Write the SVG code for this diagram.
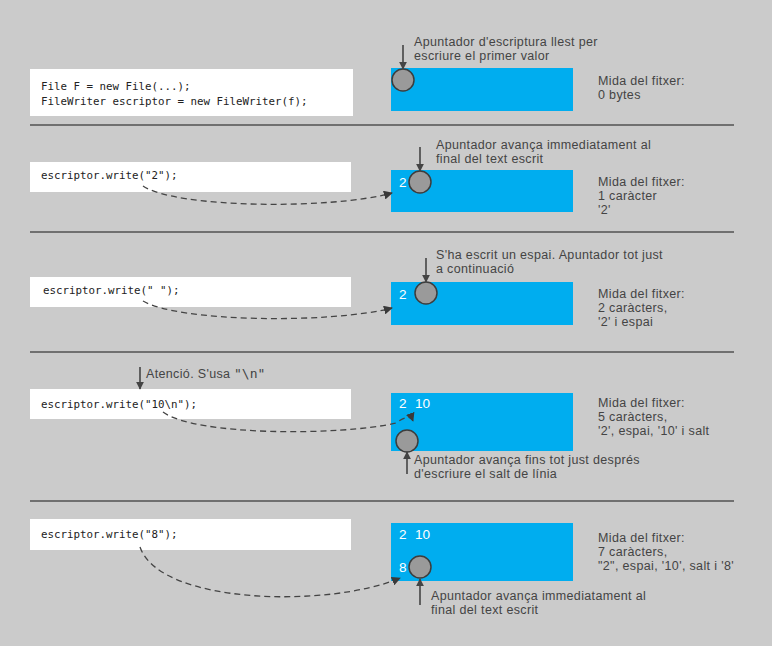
<svg xmlns="http://www.w3.org/2000/svg" width="772" height="646" viewBox="0 0 772 646">
<defs>
<style>
.bg{fill:#cbcbcb}
.code{fill:#ffffff}
.ct{font-family:"DejaVu Sans Mono","Liberation Mono",monospace;font-size:10.8px;fill:#222}
.lbl{font-family:"Liberation Sans",Arial,sans-serif;font-size:12.5px;letter-spacing:0.35px;fill:#444}
.wt{font-family:"Liberation Sans",Arial,sans-serif;font-size:13.6px;fill:#ffffff}
.mono{font-family:"DejaVu Sans Mono","Liberation Mono",monospace;font-size:13px;letter-spacing:0;fill:#444}
.file{fill:#00adef}
.ptr{fill:#9a9a9a;stroke:#3d3d3d;stroke-width:1.5}
.div{stroke:#707070;stroke-width:2}
.arr{stroke:#444;stroke-width:1.6;fill:none}
.dash{stroke:#444;stroke-width:1.3;fill:none;stroke-dasharray:6,4}
</style>
<marker id="ah" viewBox="0 0 10 10" refX="9" refY="5" markerWidth="8" markerHeight="8" markerUnits="userSpaceOnUse" orient="auto">
<path d="M0,0 L10,5 L0,10 Z" fill="#444"/>
</marker>
<marker id="ah2" viewBox="0 0 10 10" refX="9" refY="5" markerWidth="9" markerHeight="9" markerUnits="userSpaceOnUse" orient="auto">
<path d="M0,0 L10,5 L0,10 Z" fill="#3a3a3a"/>
</marker>
</defs>
<rect class="bg" x="0" y="0" width="772" height="646"/>

<g id="dividers">
<line class="div" x1="30" y1="125" x2="734" y2="125"/>
<line class="div" x1="30" y1="232" x2="734" y2="232"/>
<line class="div" x1="30" y1="352" x2="734" y2="352"/>
<line class="div" x1="30" y1="501" x2="734" y2="501"/>
</g>

<g id="code1">
<rect class="code" x="30" y="69" width="323" height="47"/>
<text class="ct" x="41" y="90">File F = new File(...);<tspan x="41" dy="15">FileWriter escriptor = new FileWriter(f);</tspan></text>
</g>
<g id="code2">
<rect class="code" x="30" y="162" width="321" height="30"/>
<text class="ct" x="41" y="179">escriptor.write("2");</text>
</g>
<g id="code3">
<rect class="code" x="30" y="277" width="321" height="30"/>
<text class="ct" x="43" y="294">escriptor.write(" ");</text>
</g>
<g id="code4">
<rect class="code" x="30" y="389" width="321" height="30"/>
<text class="ct" x="41" y="408">escriptor.write("10\n");</text>
</g>
<g id="code5">
<rect class="code" x="30" y="519" width="321" height="31"/>
<text class="ct" x="41" y="538">escriptor.write("8");</text>
</g>

<g id="file1">
<rect class="file" x="391" y="68" width="182" height="43"/>
<circle class="ptr" cx="403" cy="80" r="11"/>
<text class="lbl" x="414" y="46">Apuntador d'escriptura llest per<tspan x="414" dy="14">escriure el primer valor</tspan></text>
<text class="lbl" x="598" y="85">Mida del fitxer:<tspan x="598" dy="14">0 bytes</tspan></text>
</g>
<g id="file2">
<rect class="file" x="391" y="170" width="182" height="42"/>
<text class="wt" x="399" y="187">2</text>
<circle class="ptr" cx="420" cy="182" r="11"/>
<text class="lbl" x="436" y="149">Apuntador avança immediatament al<tspan x="436" dy="14">final del text escrit</tspan></text>
<text class="lbl" x="598" y="186">Mida del fitxer:<tspan x="598" dy="14">1 caràcter</tspan><tspan x="598" dy="14">'2'</tspan></text>
</g>
<g id="file3">
<rect class="file" x="391" y="282" width="182" height="43"/>
<text class="wt" x="399" y="299">2</text>
<circle class="ptr" cx="426" cy="293" r="11"/>
<text class="lbl" x="436" y="259">S'ha escrit un espai. Apuntador tot just<tspan x="436" dy="14">a continuació</tspan></text>
<text class="lbl" x="598" y="298">Mida del fitxer:<tspan x="598" dy="14">2 caràcters,</tspan><tspan x="598" dy="14">'2' i espai</tspan></text>
</g>
<g id="file4">
<rect class="file" x="391" y="393" width="182" height="58"/>
<text class="wt" x="399" y="408">2<tspan x="415">10</tspan></text>
<circle class="ptr" cx="407" cy="441" r="11"/>
<text class="lbl" x="414" y="464">Apuntador avança fins tot just després<tspan x="414" dy="14">d'escriure el salt de línia</tspan></text>
<text class="lbl" x="598" y="407">Mida del fitxer:<tspan x="598" dy="14">5 caràcters,</tspan><tspan x="598" dy="14">'2', espai, '10' i salt</tspan></text>
</g>
<g id="file5">
<rect class="file" x="391" y="523" width="182" height="58"/>
<text class="wt" x="399" y="539">2<tspan x="415">10</tspan></text>
<text class="wt" x="399" y="572">8</text>
<circle class="ptr" cx="420" cy="567" r="11"/>
<text class="lbl" x="431" y="600">Apuntador avança immediatament al<tspan x="431" dy="14">final del text escrit</tspan></text>
<text class="lbl" x="598" y="542">Mida del fitxer:<tspan x="598" dy="14">7 caràcters,</tspan><tspan x="598" dy="14">"2", espai, '10', salt i '8'</tspan></text>
</g>
<g id="note">
<text class="lbl" x="146" y="378">Atenció. S'usa <tspan class="mono" x="234">"\n"</tspan></text>
</g>

<g id="connectors">
<line class="arr" x1="403" y1="45" x2="403" y2="69" marker-end="url(#ah)"/>
<line class="arr" x1="420" y1="147" x2="420" y2="171" marker-end="url(#ah)"/>
<line class="arr" x1="426" y1="258" x2="426" y2="282" marker-end="url(#ah)"/>
<line class="arr" x1="407" y1="474" x2="407" y2="452" marker-end="url(#ah)"/>
<line class="arr" x1="420" y1="605" x2="420" y2="579" marker-end="url(#ah)"/>
<line class="arr" x1="140" y1="367" x2="140" y2="389" marker-end="url(#ah)"/>
<path class="dash" d="M143,186 C175,208 330,210 392,193" marker-end="url(#ah2)"/>
<path class="dash" d="M143,301 C178,322 330,324 392,308" marker-end="url(#ah2)"/>
<path class="dash" d="M163,412 C195,436 340,436 396,423 Q410,413 413,421" marker-end="url(#ah2)"/>
<path class="dash" d="M140,547 C160,605 330,608 400,578" marker-end="url(#ah2)"/>
</g>
</svg>
